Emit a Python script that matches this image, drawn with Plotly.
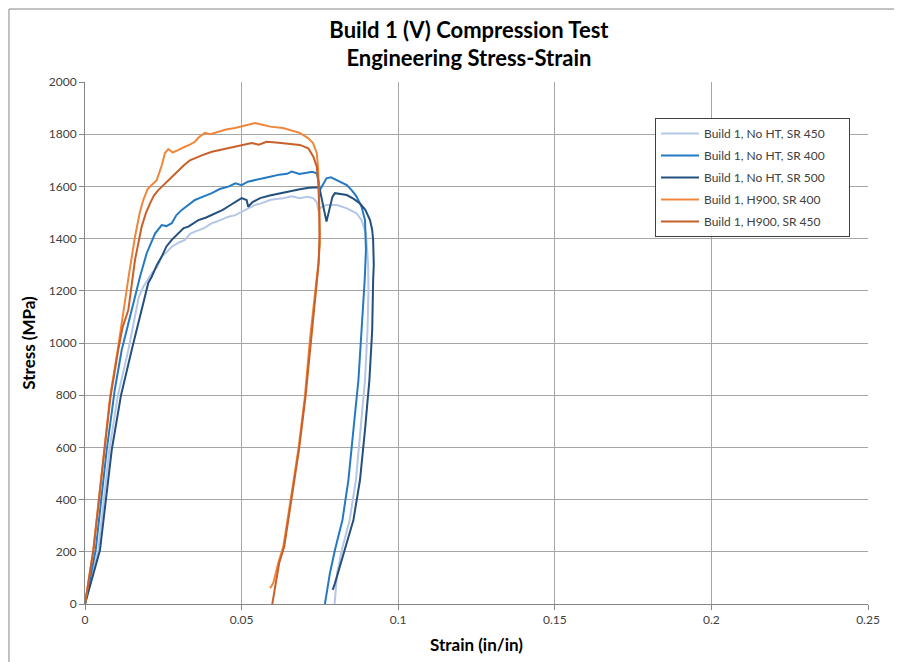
import plotly.graph_objects as go

# Stress-strain curves (strain in/in, stress MPa)
noht_450_x = [0, 0.00425, 0.00776, 0.0105, 0.01383, 0.0160, 0.0172, 0.0186, 0.0200, 0.0213, 0.0230, 0.0245,
              0.0262, 0.0277, 0.0300, 0.0319, 0.0335, 0.0351, 0.0380, 0.0405, 0.0430, 0.0458, 0.0480, 0.0500,
              0.0520, 0.0543, 0.0562, 0.0591, 0.0610, 0.0633, 0.0660, 0.0686, 0.0710, 0.0728, 0.0740, 0.0745,
              0.0755, 0.0771, 0.0804, 0.0836, 0.0867, 0.0883, 0.0897, 0.0904, 0.0905, 0.0902, 0.0894, 0.0880,
              0.0865, 0.0845, 0.0820, 0.0805, 0.0797]
noht_450_y = [0, 207, 590, 800, 973, 1100, 1177, 1215, 1240, 1267, 1290, 1331,
              1350, 1369, 1385, 1395, 1418, 1427, 1440, 1459, 1470, 1484, 1490, 1503,
              1515, 1529, 1535, 1548, 1552, 1555, 1562, 1555, 1560, 1555, 1540, 1510,
              1520, 1529, 1529, 1516, 1497, 1471, 1420, 1300, 1200, 1050, 858, 667,
              475, 322, 207, 118, 0]

noht_400_x = [0, 0.00342, 0.00693, 0.0095, 0.01172, 0.0149, 0.01756, 0.0197, 0.0224, 0.0245, 0.0260, 0.0277,
              0.0292, 0.0309, 0.0330, 0.0351, 0.0375, 0.0405, 0.0430, 0.0458, 0.0480, 0.0500, 0.0520, 0.0543,
              0.0565, 0.0591, 0.0620, 0.0645, 0.0660, 0.0685, 0.0708, 0.0725, 0.0740, 0.0745, 0.0750, 0.0758,
              0.0771, 0.0785, 0.0804, 0.0820, 0.0836, 0.0852, 0.0867, 0.0883, 0.0894, 0.0897, 0.0893, 0.0883,
              0.0873, 0.0857, 0.0841, 0.0822, 0.0798, 0.0782, 0.0766]
noht_400_y = [0, 207, 590, 820, 973, 1126, 1254, 1344, 1420, 1452, 1448, 1459,
              1490, 1510, 1530, 1548, 1560, 1574, 1590, 1599, 1612, 1605, 1618, 1625,
              1630, 1637, 1645, 1648, 1657, 1648, 1652, 1656, 1650, 1625, 1586, 1605,
              1631, 1635, 1625, 1615, 1605, 1585, 1561, 1522, 1471, 1356, 1241, 1050,
              858, 667, 475, 322, 207, 118, 0]

noht_500_x = [0, 0.00479, 0.00853, 0.0115, 0.01491, 0.0181, 0.0202, 0.0213, 0.0230, 0.0245, 0.0260, 0.0277,
              0.0298, 0.0315, 0.0330, 0.0350, 0.0362, 0.0385, 0.0415, 0.0440, 0.0457, 0.0480, 0.0500, 0.0516,
              0.0521, 0.0535, 0.0559, 0.0590, 0.0623, 0.0655, 0.0686, 0.0715, 0.0745, 0.0750, 0.0762, 0.0771,
              0.0780, 0.0790, 0.0798, 0.0815, 0.0836, 0.0858, 0.0878, 0.0895, 0.0910, 0.0917, 0.0920, 0.0922,
              0.0920, 0.0917, 0.0908, 0.0894, 0.0878, 0.0857, 0.0830, 0.0811, 0.0798, 0.0791]
noht_500_y = [0, 207, 590, 800, 973, 1126, 1230, 1254, 1300, 1331, 1370, 1395,
              1420, 1440, 1446, 1460, 1471, 1480, 1497, 1510, 1523, 1540, 1555, 1548,
              1522, 1540, 1555, 1565, 1574, 1580, 1589, 1595, 1597, 1586, 1520, 1465,
              1510, 1560, 1574, 1572, 1567, 1552, 1535, 1510, 1471, 1433, 1395, 1300,
              1241, 1050, 858, 667, 475, 322, 207, 130, 79, 54]

h900_400_x = [0, 0.00265, 0.00616, 0.0080, 0.01044, 0.01223, 0.0140, 0.01596, 0.0175, 0.01861, 0.0200, 0.0213,
              0.0229, 0.0245, 0.02554, 0.0266, 0.0280, 0.0297, 0.0310, 0.0319, 0.0335, 0.0351, 0.0365, 0.0383,
              0.0400, 0.0425, 0.0450, 0.0479, 0.0510, 0.0543, 0.0570, 0.0591, 0.0632, 0.0660, 0.0686, 0.0712,
              0.0728, 0.0740, 0.0744, 0.0747, 0.0750, 0.0745, 0.0734, 0.0718, 0.0702, 0.0681, 0.0655, 0.0633,
              0.0617, 0.0601, 0.0591]
h900_400_y = [0, 207, 590, 794, 973, 1126, 1260, 1407, 1500, 1548, 1590, 1605,
              1624, 1680, 1728, 1743, 1730, 1739, 1748, 1752, 1760, 1771, 1790, 1805,
              1800, 1810, 1818, 1824, 1832, 1843, 1835, 1829, 1824, 1815, 1805, 1785,
              1766, 1728, 1674, 1575, 1383, 1305, 1177, 1011, 794, 590, 387, 219,
              157, 80, 60]

h900_450_x = [0, 0.0027, 0.0062, 0.0081, 0.0106, 0.0120, 0.01383, 0.0150, 0.01596, 0.0181, 0.0195, 0.0208,
              0.0220, 0.0234, 0.0250, 0.0266, 0.0282, 0.0298, 0.0315, 0.0335, 0.0351, 0.0375, 0.0405, 0.0430,
              0.0457, 0.0490, 0.0532, 0.0555, 0.0580, 0.0610, 0.0633, 0.0660, 0.0686, 0.0713, 0.0729, 0.0740,
              0.0745, 0.0748, 0.0749, 0.0746, 0.0736, 0.0721, 0.0704, 0.0683, 0.0657, 0.0636, 0.0620, 0.0608,
              0.0598]
h900_450_y = [0, 207, 590, 790, 973, 1060, 1126, 1230, 1318, 1446, 1500, 1536,
              1565, 1586, 1605, 1625, 1640, 1663, 1680, 1700, 1709, 1720, 1733, 1740,
              1747, 1755, 1766, 1760, 1771, 1768, 1765, 1762, 1759, 1746, 1714, 1676,
              1613, 1510, 1420, 1305, 1177, 1011, 794, 590, 387, 219, 157, 80,
              0]

series = [
    ("Build 1, No HT, SR 450", noht_450_x, noht_450_y, "#B4C7E7"),
    ("Build 1, No HT, SR 400", noht_400_x, noht_400_y, "#2479C2"),
    ("Build 1, No HT, SR 500", noht_500_x, noht_500_y, "#24507E"),
    ("Build 1, H900, SR 400", h900_400_x, h900_400_y, "#F0863A"),
    ("Build 1, H900, SR 450", h900_450_x, h900_450_y, "#C8602A"),
]

fig = go.Figure()
for i, (name, xs, ys, col) in enumerate(series):
    # trailing non-breaking spaces widen the legend box like the reference
    fig.add_trace(go.Scatter(x=xs, y=ys, mode="lines", name=name + "\u00a0" * 6, legendgroup=str(i),
                             line=dict(color=col, width=2)))

font = "Lato, 'Open Sans', sans-serif"
axis_common = dict(showgrid=True, gridcolor="#A6A6A6", gridwidth=1, showline=True, linecolor="#868686",
                   ticks="outside", ticklen=5, tickcolor="#868686", zeroline=False,
                   tickfont=dict(family=font, size=12, color="#404040"))

# page body adds an 8px offset, so margins are trimmed by that amount
fig.update_layout(
    width=902, height=662,
    margin=dict(l=77, r=42, t=74, b=66),
    paper_bgcolor="white", plot_bgcolor="white",
    font=dict(family=font, color="black"),
    title=dict(text="<b>Build 1 (V) Compression Test</b><br><b>Engineering Stress-Strain</b>",
               x=0.511, xanchor="center", y=0.955, yanchor="top", font=dict(size=22, family=font)),
    xaxis=dict(range=[0, 0.25], dtick=0.05,
               title=dict(text="<b>Strain (in/in)</b>", font=dict(size=17, family=font), standoff=12),
               **axis_common),
    yaxis=dict(range=[0, 2000], dtick=200,
               title=dict(text="<b>Stress (MPa)</b>", font=dict(size=17, family=font), standoff=8),
               **axis_common),
    legend=dict(x=0.728, y=0.931, xanchor="left", yanchor="top", bgcolor="white",
                bordercolor="#404040", borderwidth=1, traceorder="grouped", tracegroupgap=3,
                itemwidth=38,
                font=dict(family=font, size=12, color="#404040")),
    showlegend=True,
)

# chart-area border (top and left edges visible in the reference)
fig.add_shape(type="line", xref="paper", yref="paper", x0=-0.0971, x1=1.06, y0=1.1398, y1=1.1398,
              line=dict(color="#868686", width=1))
fig.add_shape(type="line", xref="paper", yref="paper", x0=-0.0971, x1=-0.0971, y0=-0.13, y1=1.1398,
              line=dict(color="#868686", width=1))

fig.write_html("out.html")
